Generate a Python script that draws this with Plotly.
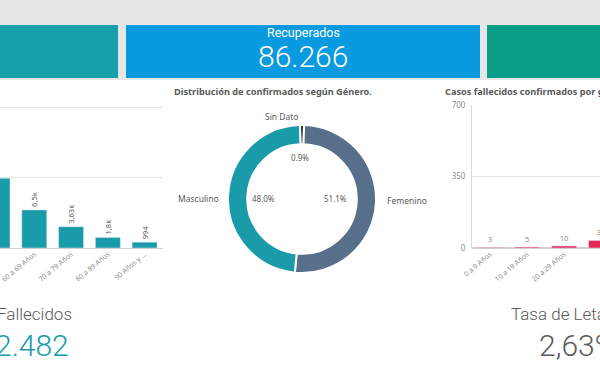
import plotly.graph_objects as go

W, H = 600, 365

# ---- data ----
age_cats_conf = ["50 a 59 Años", "60 a 69 Años", "70 a 79 Años", "80 a 89 Años", "90 Años y más"]
age_ticks_conf = ["50 a 59 Años", "60 a 69 Años", "70 a 79 Años", "80 a 89 Años", "90 Años y ..."]
conf_values = [11900, 6500, 3630, 1800, 994]
conf_labels = ["11,9k", "6,5k", "3,63k", "1,8k", "994"]

gender_labels = ["Sin Dato", "Femenino", "Masculino"]
gender_pct = [0.9, 51.1, 48.0]

age_cats_dead = ["0 a 9 Años", "10 a 19 Años", "20 a 29 Años", "30 a 39 Años"]
dead_values = [3, 5, 10, 37]

kpi_recuperados = "86.266"
kpi_fallecidos = "2.482"
kpi_tasa = "2,63%"

TEAL = "#1a9ba9"
SLATE = "#586f8b"
DARK = "#333333"
RED = "#e3285a"
GRAY_TXT = "#595959"
TICK_TXT = "#8c8c8c"
FONT = "Noto Sans"


def px(x):
    return x / W


def py(y):
    return (H - y) / H


fig = go.Figure()

# left bar chart: confirmed by age
fig.add_trace(go.Bar(
    x=age_cats_conf, y=conf_values, text=conf_labels,
    textposition="outside", textangle=-90,
    textfont=dict(size=7.5, color=GRAY_TXT, family=FONT),
    marker=dict(color=TEAL), xaxis="x", yaxis="y", width=0.68,
    hoverinfo="skip", cliponaxis=False,
))

# right bar chart: deaths by age
fig.add_trace(go.Bar(
    x=age_cats_dead, y=dead_values, text=[str(v) for v in dead_values],
    textposition="outside", textangle=0,
    textfont=dict(size=7.5, color=TICK_TXT, family=FONT),
    marker=dict(color=RED), xaxis="x2", yaxis="y2", width=0.68,
    hoverinfo="skip", cliponaxis=True,
))

# donut
fig.add_trace(go.Pie(
    labels=gender_labels, values=gender_pct, hole=0.74, sort=False,
    direction="clockwise", rotation=-gender_pct[0] * 3.6 / 2,
    marker=dict(colors=[DARK, SLATE, TEAL], line=dict(color="white", width=2)),
    textinfo="none", hoverinfo="skip", showlegend=False,
    domain=dict(x=[px(228), px(376)], y=[py(273), py(125)]),
))

fig.update_layout(
    width=W, height=H, margin=dict(l=0, r=0, t=0, b=0),
    paper_bgcolor="white", plot_bgcolor="rgba(0,0,0,0)",
    showlegend=False, bargap=0.32,
    font=dict(family=FONT, color=GRAY_TXT),
    xaxis=dict(domain=[0, px(163)], range=[0.068, 4.5], type="category",
               tickvals=age_cats_conf, ticktext=age_ticks_conf, tickangle=-40,
               tickfont=dict(size=7, color=TICK_TXT), showgrid=False, ticks="",
               showline=False, automargin=False),
    yaxis=dict(domain=[py(248), py(105)], range=[0, 24400], dtick=12000,
               showticklabels=False, gridcolor="#e3e3e3", zeroline=True,
               zerolinecolor="#cfcfcf", zerolinewidth=1, automargin=False),
    xaxis2=dict(domain=[px(472), 1], range=[-0.49, 2.97], type="category",
                tickangle=-40, tickfont=dict(size=7, color=TICK_TXT),
                showgrid=False, ticks="", anchor="y2", automargin=False),
    yaxis2=dict(domain=[py(248), py(105)], range=[0, 700], tickvals=[0, 350, 700],
                tickfont=dict(size=8, color=TICK_TXT), gridcolor="#e3e3e3",
                zeroline=True, zerolinecolor="#cfcfcf", showline=True,
                linecolor="#d9d9d9", anchor="x2", ticklabelstandoff=4,
                automargin=False),
)

shapes = [
    dict(type="rect", xref="paper", yref="paper", x0=0, x1=1, y0=py(80), y1=1,
         fillcolor="#e6e6e6", line=dict(width=0), layer="below"),
    dict(type="rect", xref="paper", yref="paper", x0=0, x1=px(118), y0=py(78), y1=py(25),
         fillcolor="#17a0ab", line=dict(width=0), layer="below"),
    dict(type="rect", xref="paper", yref="paper", x0=px(126), x1=px(480), y0=py(78), y1=py(25),
         fillcolor="#0a9ae0", line=dict(width=0), layer="below"),
    dict(type="rect", xref="paper", yref="paper", x0=px(487), x1=1, y0=py(78), y1=py(25),
         fillcolor="#0a9e86", line=dict(width=0), layer="below"),
]
fig.update_layout(shapes=shapes)


def ann(text, x, y, size, color, xanchor="center", bold=False, family=FONT, weight=None):
    f = dict(size=size, color=color, family=family)
    if weight:
        f["weight"] = weight
    return dict(text=("<b>%s</b>" % text) if bold else text, x=px(x), y=py(y),
                xref="paper", yref="paper", xanchor=xanchor, yanchor="middle",
                showarrow=False, font=f)


annotations = [
    ann("Recuperados", 303, 33, 12.5, "white", family="Roboto"),
    ann(kpi_recuperados, 303, 56, 30, "white", family="Roboto", weight=300),
    ann("Distribución de confirmados según Género.", 172, 92, 9.2, GRAY_TXT, "left", bold=True),
    ann("Casos fallecidos confirmados por grupo de edad", 443, 92, 9.2, GRAY_TXT, "left", bold=True),
    ann(gender_labels[0], 282, 116, 8.5, GRAY_TXT),
    ann(gender_labels[1], 407, 200, 8.5, GRAY_TXT),
    ann(gender_labels[2], 198, 198, 8.5, GRAY_TXT),
    ann("%.1f%%" % gender_pct[0], 300, 157, 8, GRAY_TXT),
    ann("%.1f%%" % gender_pct[1], 335, 198, 8, GRAY_TXT),
    ann("%.1f%%" % gender_pct[2], 263, 198, 8, GRAY_TXT),
    ann("Fallecidos", -5, 314, 17, GRAY_TXT, "left", family="Roboto", weight=300),
    ann(kpi_fallecidos, -7, 345, 30, TEAL, "left", family="Roboto", weight=300),
    ann("Tasa de Letalidad", 509, 314, 17, GRAY_TXT, "left", family="Roboto", weight=300),
    ann(kpi_tasa, 537, 345, 30, GRAY_TXT, "left", family="Roboto", weight=300),
]
fig.update_layout(annotations=annotations)

fig.write_html("out.html", config={"displayModeBar": False},
               post_script="document.body.style.margin='0';document.body.style.overflow='hidden';")
